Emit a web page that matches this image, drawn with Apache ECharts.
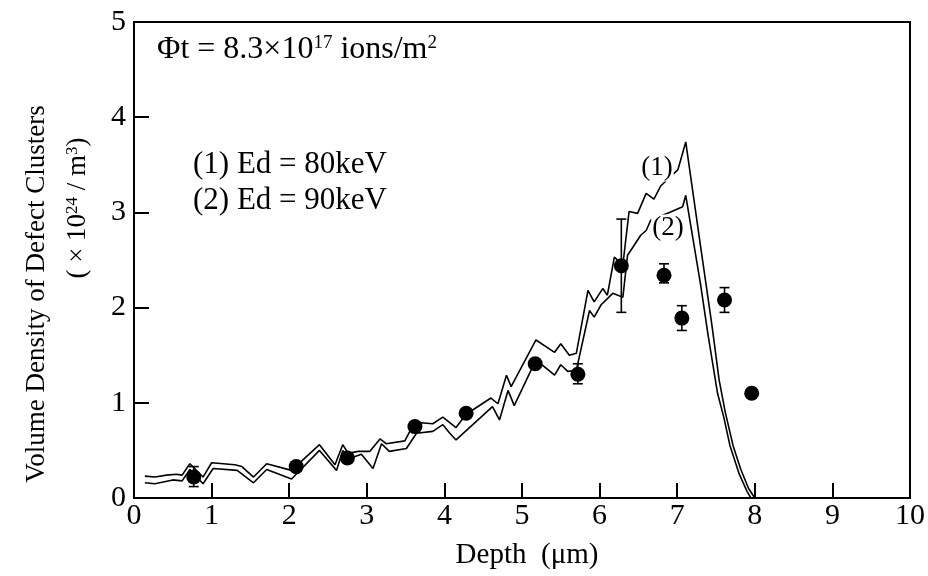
<!DOCTYPE html>
<html><head><meta charset="utf-8">
<script src="https://cdn.jsdelivr.net/npm/echarts@6/dist/echarts.min.js"></script>
<style>html,body{margin:0;padding:0;background:#fff}#c{width:928px;height:576px}</style>
</head><body><div id="c"></div>
<script>
// ---- data ----
const xTicks = [0,1,2,3,4,5,6,7,8,9,10];
const yTicks = [0,1,2,3,4,5];

// curve (1) Ed = 80 keV
const curve1Depth = [0.14,0.27,0.42,0.55,0.62,0.72,0.89,1.00,1.30,1.39,1.54,1.71,2.03,2.39,2.59,2.69,2.76,2.89,3.04,3.17,3.25,3.49,3.60,3.70,3.85,3.98,4.15,4.28,4.60,4.69,4.80,4.86,5.18,5.42,5.50,5.61,5.70,5.85,5.93,6.04,6.10,6.19,6.30,6.38,6.49,6.60,6.70,6.79,7.01,7.11,7.30,7.45,7.54,7.62,7.72,7.82,7.92,8.00];
const curve1Value = [0.23,0.22,0.24,0.25,0.24,0.36,0.22,0.37,0.35,0.33,0.22,0.36,0.29,0.56,0.35,0.56,0.47,0.49,0.49,0.62,0.57,0.60,0.77,0.79,0.78,0.85,0.74,0.88,1.05,0.99,1.29,1.17,1.66,1.53,1.62,1.50,1.52,2.18,2.06,2.20,2.13,2.53,2.45,3.01,2.99,3.20,3.14,3.28,3.45,3.74,2.65,1.80,1.24,0.90,0.55,0.30,0.10,0.00];

// curve (2) Ed = 90 keV
const curve2Depth = [0.14,0.27,0.50,0.62,0.72,0.89,1.02,1.33,1.54,1.71,2.03,2.39,2.61,2.69,2.76,2.93,3.08,3.19,3.29,3.51,3.64,3.85,3.98,4.07,4.15,4.62,4.71,4.82,4.90,5.18,5.42,5.50,5.59,5.70,5.87,5.93,6.02,6.17,6.30,6.36,6.45,6.53,6.60,6.66,6.90,7.07,7.11,7.30,7.40,7.52,7.60,7.68,7.80,7.90,7.95];
const curve2Value = [0.16,0.15,0.19,0.18,0.30,0.15,0.31,0.29,0.16,0.30,0.20,0.50,0.29,0.50,0.41,0.46,0.31,0.57,0.49,0.52,0.68,0.70,0.77,0.68,0.61,0.96,0.82,1.13,0.97,1.45,1.29,1.40,1.33,1.34,1.97,1.90,2.03,2.15,2.11,2.55,2.66,2.76,2.81,2.92,3.00,3.06,3.18,2.25,1.70,1.10,0.85,0.55,0.25,0.07,0.00];

// measured points
const pointDepth = [0.77,2.09,2.75,3.62,4.28,5.17,5.72,6.28,6.83,7.06,7.61,7.96];
const pointValue = [0.22,0.33,0.42,0.75,0.89,1.41,1.30,2.44,2.34,1.89,2.08,1.10];

// error bars
const errDepth = [0.77,5.72,6.28,6.83,7.06,7.61];
const errLow   = [0.12,1.20,1.95,2.26,1.76,1.95];
const errHigh  = [0.33,1.41,2.93,2.46,2.02,2.21];

// ---- chart ----
const FONT = "'Liberation Serif','Times New Roman',serif";
const zip = (a,b) => a.map((v,i)=>[v,b[i]]);
const errData = errDepth.map((x,i)=>[x, errLow[i], errHigh[i]]);

const chart = echarts.init(document.getElementById('c'), null, {renderer:'canvas'});
const sup = {fontSize:19, fontFamily:FONT, verticalAlign:'top', lineHeight:14, fill:'#000', color:'#000'};

function txt(x, y, text, size, opts) {
  return Object.assign({type:'text', x:x, y:y, z:100, style:Object.assign({
    text:text, font:size+'px '+FONT, fontSize:size, fontFamily:FONT, fill:'#000',
    align:'left', verticalAlign:'middle', textAlign:'left', textVerticalAlign:'middle'}, (opts&&opts.style)||{})},
    (opts&&opts.el)||{});
}
const centered = {align:'center', textAlign:'center'};

chart.setOption({
  animation:false,
  backgroundColor:'#fff',
  grid:{left:134, right:17, top:22, bottom:78, show:true, borderColor:'#000', borderWidth:2, backgroundColor:'transparent'},
  xAxis:{type:'value', min:0, max:10, interval:1,
    axisLine:{show:true, onZero:false, lineStyle:{color:'#000', width:2}},
    axisTick:{show:true, inside:true, length:15, lineStyle:{color:'#000', width:2}},
    axisLabel:{color:'#000', fontFamily:FONT, fontSize:30, margin:3,
      formatter:v=> xTicks.includes(v) ? String(v) : ''},
    splitLine:{show:false}},
  yAxis:{type:'value', min:0, max:5, interval:1,
    axisLine:{show:true, onZero:false, lineStyle:{color:'#000', width:2}},
    axisTick:{show:true, inside:true, length:15, lineStyle:{color:'#000', width:2}},
    axisLabel:{color:'#000', fontFamily:FONT, fontSize:30, margin:8,
      formatter:v=> yTicks.includes(v) ? String(v) : ''},
    splitLine:{show:false}},
  series:[
    {type:'line', data:zip(curve1Depth,curve1Value), showSymbol:false, symbol:'none',
      lineStyle:{color:'#000', width:1.6}, z:2},
    {type:'line', data:zip(curve2Depth,curve2Value), showSymbol:false, symbol:'none',
      lineStyle:{color:'#000', width:1.6}, z:2},
    {type:'custom', data:errData, z:3,
      renderItem:function(params, api){
        const x = api.value(0);
        const lo = api.coord([x, api.value(1)]);
        const hi = api.coord([x, api.value(2)]);
        const w = 5;
        const st = {stroke:'#000', lineWidth:1.6};
        return {type:'group', children:[
          {type:'line', shape:{x1:lo[0], y1:lo[1], x2:hi[0], y2:hi[1]}, style:st},
          {type:'line', shape:{x1:lo[0]-w, y1:lo[1], x2:lo[0]+w, y2:lo[1]}, style:st},
          {type:'line', shape:{x1:hi[0]-w, y1:hi[1], x2:hi[0]+w, y2:hi[1]}, style:st}
        ]};
      }},
    {type:'scatter', data:zip(pointDepth,pointValue), symbol:'circle', symbolSize:15,
      itemStyle:{color:'#000', opacity:1}, z:4}
  ],
  graphic:[
    txt(157, 50, 'Φt = 8.3×10{s|17} ions/m{s|2}', 32, {style:{rich:{s:sup}}}),
    txt(193, 165, '(1) Ed = 80keV', 31),
    txt(193, 201, '(2) Ed = 90keV', 31),
    txt(657, 168, '(1)', 27, {style:Object.assign({backgroundColor:'#fff', padding:[0,1]}, centered)}),
    txt(668, 228, '(2)', 27, {style:Object.assign({backgroundColor:'#fff', padding:[0,1]}, centered)}),
    txt(527, 555, 'Depth  (μm)', 29, {style:centered}),
    txt(37, 294, 'Volume Density of Defect Clusters', 27, {style:centered, el:{rotation:Math.PI/2}}),
    txt(78, 208, '( × 10{s|24} / m{s|3})', 27, {style:Object.assign({rich:{s:{fontSize:17, fontFamily:FONT, verticalAlign:'top', lineHeight:12, fill:'#000'}}}, centered), el:{rotation:Math.PI/2}})
  ]
});
</script>
</body></html>
